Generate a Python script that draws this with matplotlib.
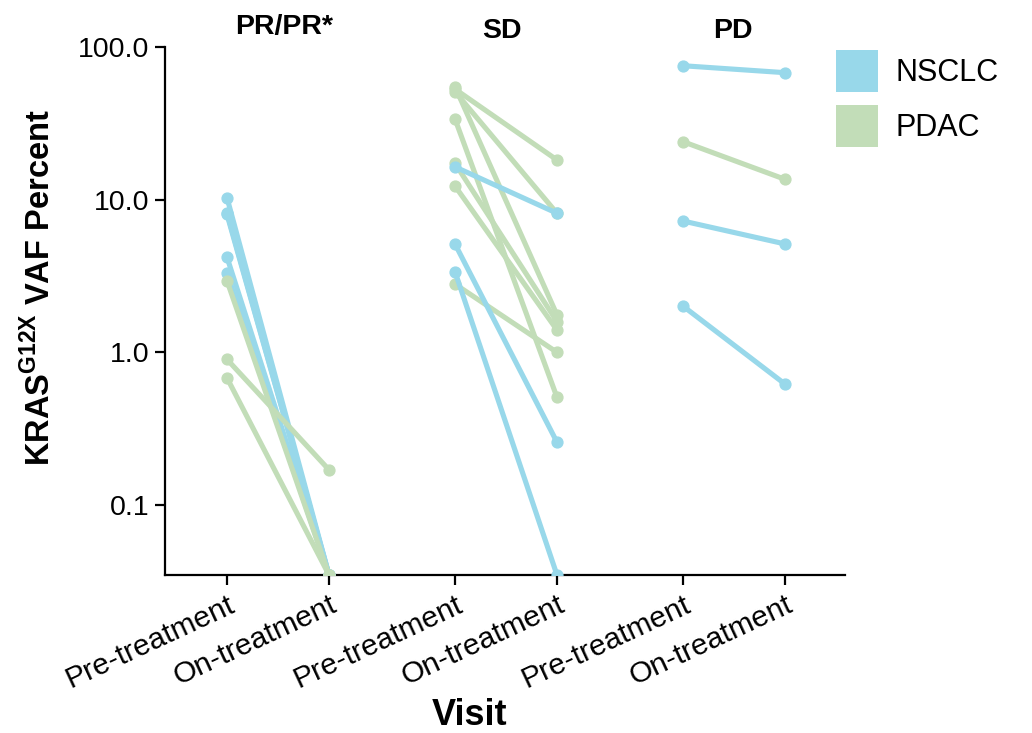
import numpy as np
import matplotlib
matplotlib.use("Agg")
import matplotlib.pyplot as plt
from matplotlib.patches import Patch

plt.rcParams['font.family'] = ['Liberation Sans', 'DejaVu Sans']
plt.rcParams['mathtext.fontset'] = 'custom'
plt.rcParams['mathtext.rm'] = 'Liberation Sans'
plt.rcParams['mathtext.bf'] = 'Liberation Sans:bold'

# ---- data ----
groups = ["PR/PR*", "SD", "PD"]
visits = ["Pre-treatment", "On-treatment"]
colors = {"NSCLC": "#98D8EA", "PDAC": "#C2DDB8"}

# each pair: (pre, on); 0 = undetected (drawn at the axis floor)
pr_nsclc_pre = [10.3, 8.2, 8.0, 4.2, 3.3]
pr_nsclc_on = [0, 0, 0, 0, 0]
pr_pdac_pre = [2.94, 0.90, 0.68]
pr_pdac_on = [0, 0.17, 0]

sd_nsclc_pre = [16.4, 5.13, 3.38]
sd_nsclc_on = [8.15, 0.258, 0]
sd_pdac_pre = [55.0, 53.0, 51.0, 33.8, 17.3, 12.3, 2.8]
sd_pdac_on = [1.76, 18.2, 8.15, 0.508, 1.59, 1.40, 1.0]

pd_nsclc_pre = [75.4, 7.25, 2.01]
pd_nsclc_on = [67.9, 5.13, 0.62]
pd_pdac_pre = [24.0]
pd_pdac_on = [13.6]

yticks = [0.1, 1.0, 10.0, 100.0]
ytick_labels = ["0.1", "1.0", "10.0", "100.0"]
ymin, ymax = 0.0348, 100.0

# category positions on the shared x axis
group_start = [0.0, 2.235, 4.47]

fig = plt.figure(figsize=(10.32, 7.33), dpi=100)
W, H = 1032, 733
ax = fig.add_axes([165 / W, 1 - 575 / H, (845 - 165) / W, (575 - 47) / H])
ax.set_yscale("log")

data = [
    (0, "NSCLC", pr_nsclc_pre, pr_nsclc_on),
    (0, "PDAC", pr_pdac_pre, pr_pdac_on),
    (1, "PDAC", sd_pdac_pre, sd_pdac_on),
    (1, "NSCLC", sd_nsclc_pre, sd_nsclc_on),
    (2, "NSCLC", pd_nsclc_pre, pd_nsclc_on),
    (2, "PDAC", pd_pdac_pre, pd_pdac_on),
]
for g, kind, pre, on in data:
    x0 = group_start[g]
    for a, b in zip(pre, on):
        ys = np.maximum([a, b], ymin)
        ax.plot([x0, x0 + 1], ys, color=colors[kind], lw=3.7, marker="o",
                ms=7.8, solid_capstyle="butt", zorder=3)

ticks = []
for s in group_start:
    ticks += [s, s + 1]
ax.set_xticks(ticks)
ax.set_xticklabels(visits * 3, rotation=25, ha="right", rotation_mode="anchor",
                   fontsize=21.5)
ax.set_xlim((165 - 227) / 102, (845 - 227) / 102)
ax.set_ylim(ymin, ymax)
ax.set_yticks(yticks)
ax.set_yticklabels(ytick_labels, fontsize=20.5)
ax.yaxis.set_minor_locator(matplotlib.ticker.NullLocator())

for side in ["top", "right"]:
    ax.spines[side].set_visible(False)
for side in ["left", "bottom"]:
    ax.spines[side].set_linewidth(1.6)
ax.tick_params(axis="both", length=7, width=1.6, color="black", pad=4)

fig.text(40 / W, 1 - 288 / H, "KRAS$^{\\mathbf{G12X}}$ VAF Percent", rotation=90,
         ha="center", va="center", fontsize=23.5, fontweight="bold")
fig.text(470 / W, 1 - 725 / H, "Visit", ha="center", va="baseline", fontsize=26,
         fontweight="bold")

# group titles
fig.text(284 / W, 1 - 27 / H, groups[0], ha="center", va="center", fontsize=20.5,
         fontweight="bold")
fig.text(502 / W, 1 - 31 / H, groups[1], ha="center", va="center", fontsize=20.5,
         fontweight="bold")
fig.text(733 / W, 1 - 31 / H, groups[2], ha="center", va="center", fontsize=20.5,
         fontweight="bold")

handles = [Patch(facecolor=colors[k], edgecolor="none", label=k) for k in ["NSCLC", "PDAC"]]
fig.legend(handles=handles, loc="upper left", bbox_to_anchor=(836 / W, 1 - 50 / H),
           frameon=False, fontsize=22, handlelength=1.36, handleheight=1.72,
           handletextpad=0.6, labelspacing=0.45, borderaxespad=0, borderpad=0)

fig.savefig("out.png", dpi=100)
